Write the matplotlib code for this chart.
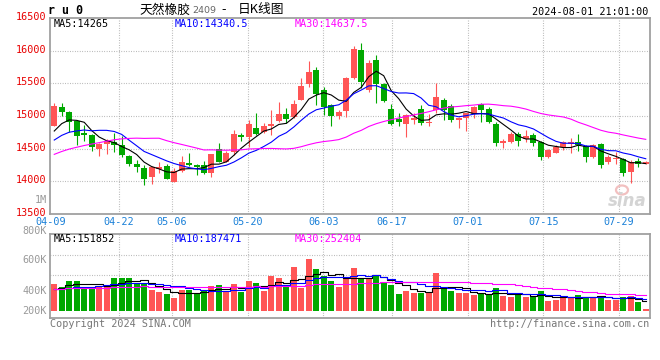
import numpy as np
import matplotlib

matplotlib.use("Agg")
import matplotlib.pyplot as plt
from matplotlib.patches import Ellipse
from matplotlib.transforms import ScaledTranslation

plt.rcParams["font.family"] = ["DejaVu Sans Mono", "Noto Sans CJK SC"]

# daily candles, 04-09 .. 08-01 night session
open_ = [14852, 15143, 15066, 14923, 14745, 14709, 14500, 14566, 14607, 14556,
         14392, 14265, 14199, 14071, 14188, 14234, 13995, 14158, 14280, 14250,
         14250, 14122, 14494, 14301, 14454, 14709, 14683, 14821, 14750, 14847,
         14923, 15030, 14990, 15245, 15490, 15704, 15398, 15168, 15000, 15081,
         15587, 16010, 15398, 15857, 15490, 15107, 14949, 14877, 14935, 15107,
         14898, 15092, 15245, 15153, 14938, 14964, 15030, 15183, 15107, 14877,
         14581, 14607, 14724, 14648, 14709, 14607, 14377, 14438, 14530, 14566,
         14596, 14540, 14367, 14571, 14300, 14341, 14336, 14147, 14316, 14265]
high = [15204, 15204, 15070, 14930, 14862, 14720, 14580, 14648, 14734, 14690,
        14400, 14326, 14250, 14234, 14290, 14260, 14199, 14390, 14430, 14265,
        14311, 14420, 14581, 14464, 14785, 14734, 14938, 15051, 14887, 15092,
        15219, 15117, 15250, 15576, 15842, 15755, 15449, 15178, 15092, 15592,
        16071, 16112, 15857, 15934, 15500, 15178, 15041, 15025, 15040, 15168,
        15030, 15510, 15270, 15183, 14980, 15051, 15150, 15194, 15143, 14913,
        14648, 14760, 14760, 14785, 14734, 14622, 14489, 14560, 14625, 14658,
        14724, 14556, 14571, 14591, 14403, 14454, 14352, 14326, 14352, 14310]
low = [14845, 14999, 14760, 14556, 14622, 14469, 14392, 14423, 14454, 14380,
       14240, 14142, 13950, 13960, 14122, 14030, 13995, 14150, 14234, 14100,
       14112, 14071, 14290, 14295, 14403, 14622, 14520, 14709, 14734, 14709,
       14913, 14888, 14964, 15240, 15449, 15168, 15015, 14847, 14949, 14979,
       15566, 15423, 15372, 15204, 15209, 14862, 14847, 14683, 14870, 14862,
       14847, 15051, 14938, 14913, 14821, 14770, 14964, 14913, 14898, 14540,
       14515, 14581, 14546, 14607, 14540, 14326, 14352, 14428, 14480, 14428,
       14469, 14300, 14352, 14198, 14265, 14265, 14086, 13969, 14224, 14260]
close = [15153, 15066, 14903, 14694, 14704, 14520, 14571, 14617, 14556, 14403,
         14265, 14214, 14035, 14214, 14224, 14040, 14158, 14298, 14250, 14215,
         14132, 14418, 14301, 14428, 14719, 14683, 14877, 14724, 14847, 14877,
         15030, 14959, 15178, 15459, 15668, 15337, 15143, 15000, 15066, 15576,
         16020, 15525, 15816, 15490, 15234, 14877, 14913, 15015, 14965, 14898,
         14913, 15296, 15092, 14938, 14974, 15041, 15143, 15092, 14913, 14581,
         14617, 14724, 14622, 14693, 14591, 14377, 14479, 14530, 14607, 14596,
         14556, 14367, 14556, 14249, 14377, 14362, 14132, 14300, 14260, 14300]
volume = [405000, 360000, 450000, 450000, 365000, 365000, 365000, 355000, 500000, 500000,
          500000, 415000, 400000, 315000, 280000, 255000, 200000, 315000, 315000, 275000,
          315000, 375000, 390000, 300000, 405000, 290000, 450000, 420000, 300000, 525000,
          500000, 365000, 665000, 350000, 780000, 630000, 525000, 450000, 365000, 515000,
          650000, 475000, 490000, 540000, 430000, 390000, 255000, 300000, 275000, 275000,
          290000, 565000, 340000, 300000, 275000, 275000, 240000, 255000, 255000, 350000,
          230000, 215000, 255000, 215000, 225000, 300000, 150000, 165000, 200000, 200000,
          240000, 215000, 215000, 230000, 165000, 165000, 215000, 225000, 135000, 35000]

# closes / volumes before the window, needed for the moving averages
prior_close = [13750, 13800, 13860, 13900, 13850, 13920, 13950, 13900, 13994,
               14050, 14100, 14150, 14150, 14203,
               15150, 15100, 15093, 15080, 15050, 15020,
               14350, 14420, 14500, 14560, 14640,
               14500, 14620, 14727, 14850]
prior_volume = [330000, 350000, 320000, 345000, 360000, 335000, 310000, 325000, 340000, 355000,
                330000, 345000, 320000, 335000, 350000, 330000, 340000, 325000, 345000, 360000,
                320000, 340000, 330000, 310000, 350000,
                250000, 260000, 365000, 370000]

date_labels = ["04-09", "04-22", "05-06", "05-20", "06-03", "06-17", "07-01", "07-15", "07-29"]
date_index = [0, 9, 16, 26, 36, 45, 55, 65, 75]

price_legend = ["MA5:14265", "MA10:14340.5", "MA30:14637.5"]
volume_legend = ["MA5:151852", "MA10:187471", "MA30:252404"]
volume_labels = ["1M", "800K", "600K", "400K", "200K"]

RED = "#ff5555"
GREEN = "#00a800"
MA_COLORS = ["#000000", "#0000ff", "#ff00ff"]
GRID = dict(color="#a8a8a8", lw=0.8, ls=(0, (0.7, 1.5)))
W, H = 660, 360


def moving_average(values, prior, n):
    full = np.concatenate([prior, values]).astype(float)
    ma = np.convolve(full, np.ones(n) / n, mode="valid")
    return ma[-len(values):]


def fx(x):
    return x / W


def fy(y):
    return 1 - y / H


o = np.array(open_)
c = np.array(close)
x = np.arange(len(c))
up = c >= o
colors = np.where(up, RED, GREEN)
# sina spreads the date grid over n-1 slots
tick_pos = np.array(date_index) * len(c) / (len(c) - 1) - 0.5

fig = plt.figure(figsize=(W / 100, H / 100), dpi=100)
fig.patch.set_facecolor("white")

ax = fig.add_axes([fx(50.5), fy(214), fx(599), 196 / H])
ax.set_xlim(-0.5, len(c) - 0.5)
ax.set_ylim(13500, 16500)
for yv in range(14000, 16500, 500):
    ax.axhline(yv, zorder=0, **GRID)
for p in tick_pos[1:]:
    ax.axvline(p, zorder=0, **GRID)

ax.vlines(x, low, high, colors=colors, lw=0.8, zorder=2)
body = np.maximum(np.abs(c - o), 12)
ax.bar(x, body, bottom=np.minimum(o, c), width=0.8, color=colors, lw=0, zorder=3)

for n, col in zip([5, 10, 30], MA_COLORS):
    ax.plot(x, moving_average(close, prior_close, n), color=col, lw=0.8, zorder=4)

ax.set_yticks(range(13500, 17000, 500))
ax.tick_params(axis="y", length=0, pad=3, labelcolor="#e80000", labelsize=7.3)
shift_up = ScaledTranslation(0, 0.02, fig.dpi_scale_trans)
for lab in ax.get_yticklabels():
    lab.set_transform(lab.get_transform() + shift_up)
ax.set_xticks(tick_pos)
ax.set_xticklabels(date_labels)
ax.tick_params(axis="x", length=0, pad=2.5, labelcolor="#1a80d8", labelsize=7.3)
for s in ax.spines.values():
    s.set_color("#a0a0a0")
    s.set_linewidth(1.3)

# volume panel
ax2 = fig.add_axes([fx(50.5), fy(318), fx(599), 84 / H])
ax2.set_xlim(-0.5, len(c) - 0.5)
ax2.set_ylim(-105000, 1155000)
for yv in [540000, 840000]:
    ax2.axhline(yv, zorder=0, **GRID)
for p in tick_pos[1:]:
    ax2.axvline(p, zorder=0, **GRID)
ax2.bar(x, volume, width=0.8, color=colors, lw=0, zorder=2)
for n, col in zip([5, 10, 30], MA_COLORS):
    ax2.plot(x, moving_average(volume, prior_volume, n), color=col, lw=0.8,
             drawstyle="steps-mid", zorder=3)
ax2.set_xticks([])
ax2.set_yticks([])
for s in ax2.spines.values():
    s.set_color("#a0a0a0")
    s.set_linewidth(1.3)

for lab, yp in zip(volume_labels, [200, 231, 260, 290.5, 311]):
    fig.text(fx(47), fy(yp), lab, ha="right", va="center", color="#999999", fontsize=7.3)

# header
fig.text(fx(48), fy(11), "r u 0", ha="left", va="center", fontsize=8.4, fontweight="bold")
fig.text(fx(139), fy(10), "天然橡胶", ha="left", va="center", fontsize=9.2,
         family=["Noto Sans CJK SC", "DejaVu Sans"])
fig.text(fx(192), fy(10.5), "2409", ha="left", va="center", fontsize=6.8, color="#666666",
         family=["DejaVu Sans"])
fig.text(fx(221), fy(10), "-", ha="left", va="center", fontsize=9.2,
         family=["Noto Sans CJK SC", "DejaVu Sans"])
fig.text(fx(238), fy(10), "日K线图", ha="left", va="center", fontsize=9.2,
         family=["Noto Sans CJK SC", "DejaVu Sans"])
fig.text(fx(648), fy(12), "2024-08-01 21:01:00", ha="right", va="center", fontsize=7.3)

for txt, xp, col in zip(price_legend, [54, 175, 295], MA_COLORS):
    fig.text(fx(xp), fy(24), txt, ha="left", va="center", color=col, fontsize=7.3)
for txt, xp, col in zip(volume_legend, [54, 175, 295], MA_COLORS):
    fig.text(fx(xp), fy(239), txt, ha="left", va="center", color=col, fontsize=7.3)

fig.text(fx(50), fy(324), "Copyright 2024 SINA.COM", ha="left", va="center",
         color="#777777", fontsize=7.3)
fig.text(fx(649), fy(324), "http://finance.sina.com.cn", ha="right", va="center",
         color="#777777", fontsize=7.3)

# watermark
fig.text(fx(627), fy(201), "sina", ha="center", va="center", fontsize=12,
         fontweight="bold", style="italic", color="#d4d4d4", family=["DejaVu Sans"])
fig.patches.append(Ellipse((fx(622), fy(190)), 12 / W, 9 / H, transform=fig.transFigure,
                           fill=False, edgecolor="#f2c0c0", lw=1.6))

fig.savefig("out.png", dpi=100, facecolor="white")
